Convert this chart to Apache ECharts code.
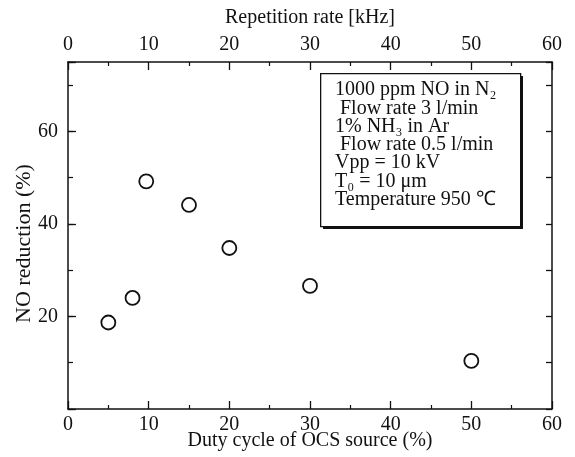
<!DOCTYPE html>
<html>
<head>
<meta charset="utf-8">
<script src="https://cdn.jsdelivr.net/npm/echarts@6/dist/echarts.min.js"></script>
<style>
  html, body { margin: 0; padding: 0; background: #fff; }
  #chart { width: 575px; height: 457px; }
</style>
</head>
<body>
<div id="chart"></div>
<script>
// duty cycle (%) vs NO reduction (%)
const dutyCycle = [5, 8, 9.7, 15, 20, 30, 50];
const noReduction = [18.7, 24, 49.2, 44.1, 34.8, 26.6, 10.4];

const xTicks = [0, 10, 20, 30, 40, 50, 60];
const yLabels = [20, 40, 60];

const conditionLines = [
  '1000 ppm NO in N\u2082',
  ' Flow rate 3 l/min',
  '1% NH\u2083 in Ar',
  ' Flow rate 0.5 l/min',
  'Vpp = 10 kV',
  'T\u2080 = 10 \u03bcm',
  'Temperature 950 \u2103'
];

const font = 'Liberation Serif';
const black = '#111';

let chart = echarts.init(document.getElementById('chart'));

const xBase = {
  type: 'value',
  min: xTicks[0],
  max: xTicks[xTicks.length - 1],
  interval: 10,
  axisLine: {onZero: false, lineStyle: {color: black, width: 1.5}},
  axisTick: {inside: true, length: 8, lineStyle: {color: black, width: 1.3}},
  minorTick: {show: true, splitNumber: 2, length: 4, lineStyle: {color: black, width: 1.2}},
  splitLine: {show: false},
  axisLabel: {color: black, fontFamily: font, fontSize: 20},
  nameLocation: 'middle',
  nameMoveOverlap: false,
  nameTextStyle: {color: black, fontFamily: font, fontSize: 20}
};

let option = {
  backgroundColor: '#fff',
  animation: false,
  grid: {left: 68, right: 23, top: 62, bottom: 48, containLabel: false, outerBoundsMode: 'none'},
  xAxis: [
    Object.assign({}, xBase, {
      position: 'bottom',
      name: 'Duty cycle of OCS source (%)',
      nameGap: 22,
      axisLabel: Object.assign({}, xBase.axisLabel, {margin: 6})
    }),
    Object.assign({}, xBase, {
      position: 'top',
      name: 'Repetition rate [kHz]',
      nameGap: 34,
      axisLabel: Object.assign({}, xBase.axisLabel, {margin: 7})
    })
  ],
  yAxis: [
    {
      type: 'value', position: 'left', min: 0, max: 75, interval: 20,
      name: 'NO reduction (%)',
      nameLocation: 'middle',
      nameMoveOverlap: false,
      nameGap: 33,
      nameTextStyle: {color: black, fontFamily: font, fontSize: 22, padding: [0, 16, 0, 0]},
      axisLine: {show: true, onZero: false, lineStyle: {color: black, width: 1.5}},
      axisTick: {inside: true, length: 8, lineStyle: {color: black, width: 1.3}},
      splitLine: {show: false},
      axisLabel: {
        color: black, fontFamily: font, fontSize: 20, margin: 10,
        formatter: v => yLabels.includes(v) ? String(v) : ''
      }
    },
    {
      type: 'value', position: 'right', min: 0, max: 75, interval: 10,
      axisLine: {show: true, onZero: false, lineStyle: {color: black, width: 1.5}},
      axisTick: {inside: true, length: 6, lineStyle: {color: black, width: 1.3}},
      splitLine: {show: false},
      axisLabel: {show: false}
    },
    {
      type: 'value', position: 'left', min: 0, max: 75, interval: 10,
      axisLine: {show: false, onZero: false},
      axisTick: {inside: true, length: 5, lineStyle: {color: black, width: 1.2}},
      splitLine: {show: false},
      axisLabel: {show: false}
    }
  ],
  graphic: [
    {
      // drop shadow of the condition box
      type: 'rect',
      left: 323, top: 76,
      shape: {width: 200, height: 153},
      style: {fill: black},
      z: 9
    },
    {
      type: 'rect',
      left: 320, top: 73,
      shape: {width: 200, height: 153},
      style: {fill: '#fff', stroke: black, lineWidth: 1.3},
      z: 10
    },
    {
      type: 'text',
      left: 335, top: 80,
      style: {
        text: conditionLines.join('\n'),
        fill: black,
        font: '20px "Liberation Serif"',
        lineHeight: 18.3
      },
      z: 11
    }
  ],
  series: [{
    type: 'scatter',
    xAxisIndex: 0,
    yAxisIndex: 0,
    symbol: 'circle',
    symbolSize: 14,
    itemStyle: {color: '#fff', borderColor: black, borderWidth: 1.8, opacity: 1},
    data: dutyCycle.map((d, i) => [d, noReduction[i]])
  }]
};

chart.setOption(option);
</script>
</body>
</html>
